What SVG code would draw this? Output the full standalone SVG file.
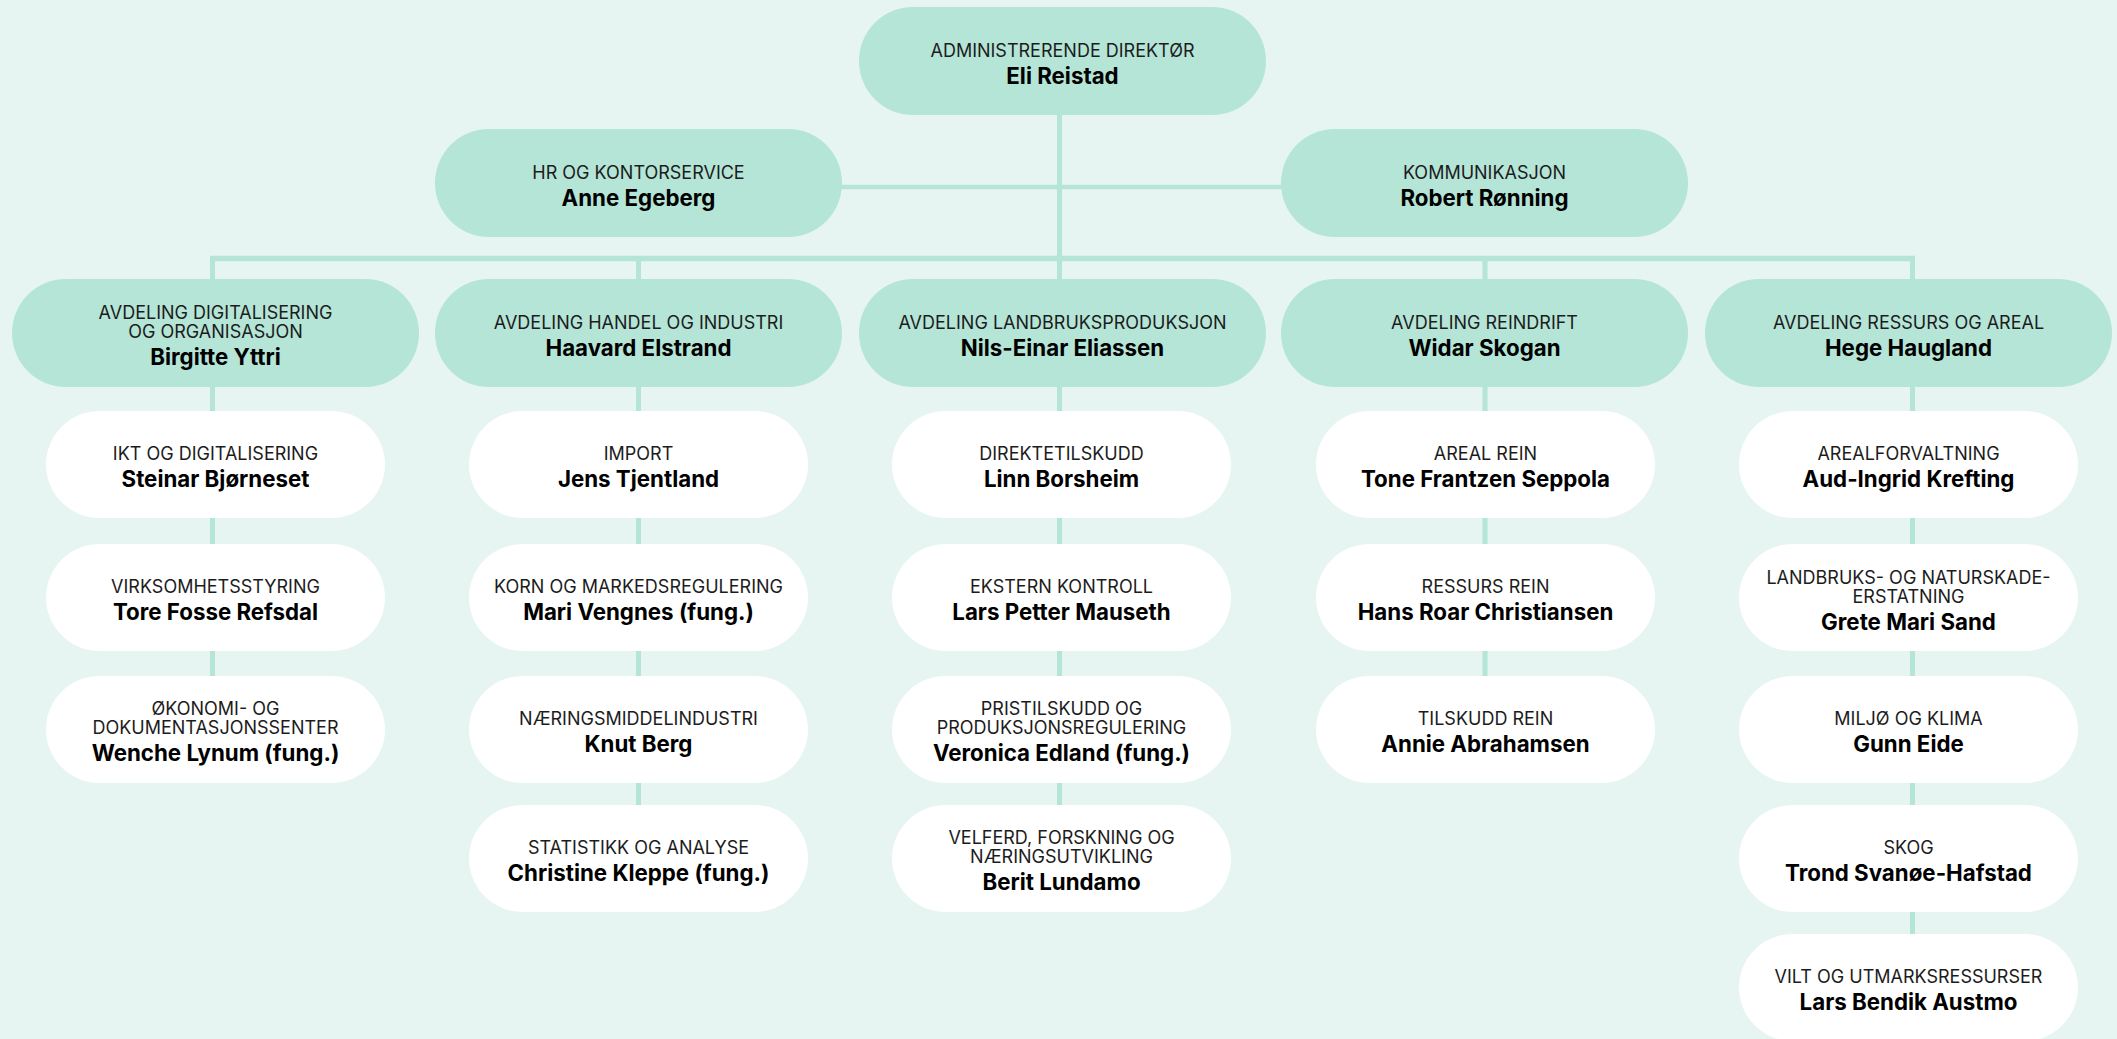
<svg xmlns="http://www.w3.org/2000/svg" width="2117" height="1039" viewBox="0 0 2117 1039">
<style>
.bg{fill:#E6F5F1}
.m{fill:#B4E5D7}
.w{fill:#FFFFFF}
.c{stroke:#B4E5D7;fill:none}
text{font-family:Inter,"Liberation Sans",sans-serif;text-anchor:middle;fill:#111}
.l{font-size:18px;font-weight:400;fill:#1c1c1c}
.n{font-size:22.3px;font-weight:700;fill:#000}
</style>
<rect class="bg" x="0" y="0" width="2117" height="1039"/>
<g id="connectors" class="c">
<line x1="1059.5" y1="110" x2="1059.5" y2="285" stroke-width="5"/>
<line x1="838" y1="187" x2="1285" y2="187" stroke-width="4.5"/>
<line x1="210" y1="258.5" x2="1915" y2="258.5" stroke-width="5.5"/>
<line x1="212.5" y1="256" x2="212.5" y2="730" stroke-width="5"/>
<line x1="638.5" y1="256" x2="638.5" y2="860" stroke-width="5"/>
<line x1="1059.5" y1="256" x2="1059.5" y2="860" stroke-width="5"/>
<line x1="1485" y1="256" x2="1485" y2="730" stroke-width="5"/>
<line x1="1912.5" y1="256" x2="1912.5" y2="990" stroke-width="5"/>
</g>
<g id="n-top"><rect class="m" x="859" y="7" width="407" height="108" rx="54"/><text class="l" x="1062.5" y="57">ADMINISTRERENDE DIREKTØR</text><text class="n" x="1062.5" y="84">Eli Reistad</text></g>
<g id="n-hr"><rect class="m" x="435" y="129" width="407" height="108" rx="54"/><text class="l" x="638.5" y="179">HR OG KONTORSERVICE</text><text class="n" x="638.5" y="206">Anne Egeberg</text></g>
<g id="n-komm"><rect class="m" x="1281" y="129" width="407" height="108" rx="54"/><text class="l" x="1484.5" y="179">KOMMUNIKASJON</text><text class="n" x="1484.5" y="206">Robert Rønning</text></g>
<g id="d-dig"><rect class="m" x="12" y="279" width="407" height="108" rx="54"/><text class="l" x="215.5" y="319">AVDELING DIGITALISERING</text><text class="l" x="215.5" y="338">OG ORGANISASJON</text><text class="n" x="215.5" y="365">Birgitte Yttri</text></g>
<g id="d-han"><rect class="m" x="435" y="279" width="407" height="108" rx="54"/><text class="l" x="638.5" y="329">AVDELING HANDEL OG INDUSTRI</text><text class="n" x="638.5" y="356">Haavard Elstrand</text></g>
<g id="d-lan"><rect class="m" x="859" y="279" width="407" height="108" rx="54"/><text class="l" x="1062.5" y="329">AVDELING LANDBRUKSPRODUKSJON</text><text class="n" x="1062.5" y="356">Nils-Einar Eliassen</text></g>
<g id="d-rei"><rect class="m" x="1281" y="279" width="407" height="108" rx="54"/><text class="l" x="1484.5" y="329">AVDELING REINDRIFT</text><text class="n" x="1484.5" y="356">Widar Skogan</text></g>
<g id="d-res"><rect class="m" x="1705" y="279" width="407" height="108" rx="54"/><text class="l" x="1908.5" y="329">AVDELING RESSURS OG AREAL</text><text class="n" x="1908.5" y="356">Hege Haugland</text></g>

<g id="s1-1"><rect class="w" x="46" y="411" width="339" height="107" rx="53.5"/><text class="l" x="215.5" y="460">IKT OG DIGITALISERING</text><text class="n" x="215.5" y="487">Steinar Bjørneset</text></g>
<g id="s1-2"><rect class="w" x="46" y="544" width="339" height="107" rx="53.5"/><text class="l" x="215.5" y="593">VIRKSOMHETSSTYRING</text><text class="n" x="215.5" y="620">Tore Fosse Refsdal</text></g>
<g id="s1-3"><rect class="w" x="46" y="676" width="339" height="107" rx="53.5"/><text class="l" x="215.5" y="715">ØKONOMI- OG</text><text class="l" x="215.5" y="734">DOKUMENTASJONSSENTER</text><text class="n" x="215.5" y="761">Wenche Lynum (fung.)</text></g>

<g id="s2-1"><rect class="w" x="469" y="411" width="339" height="107" rx="53.5"/><text class="l" x="638.5" y="460">IMPORT</text><text class="n" x="638.5" y="487">Jens Tjentland</text></g>
<g id="s2-2"><rect class="w" x="469" y="544" width="339" height="107" rx="53.5"/><text class="l" x="638.5" y="593">KORN OG MARKEDSREGULERING</text><text class="n" x="638.5" y="620">Mari Vengnes (fung.)</text></g>
<g id="s2-3"><rect class="w" x="469" y="676" width="339" height="107" rx="53.5"/><text class="l" x="638.5" y="725">NÆRINGSMIDDELINDUSTRI</text><text class="n" x="638.5" y="752">Knut Berg</text></g>
<g id="s2-4"><rect class="w" x="469" y="805" width="339" height="107" rx="53.5"/><text class="l" x="638.5" y="854">STATISTIKK OG ANALYSE</text><text class="n" x="638.5" y="881">Christine Kleppe (fung.)</text></g>

<g id="s3-1"><rect class="w" x="892" y="411" width="339" height="107" rx="53.5"/><text class="l" x="1061.5" y="460">DIREKTETILSKUDD</text><text class="n" x="1061.5" y="487">Linn Borsheim</text></g>
<g id="s3-2"><rect class="w" x="892" y="544" width="339" height="107" rx="53.5"/><text class="l" x="1061.5" y="593">EKSTERN KONTROLL</text><text class="n" x="1061.5" y="620">Lars Petter Mauseth</text></g>
<g id="s3-3"><rect class="w" x="892" y="676" width="339" height="107" rx="53.5"/><text class="l" x="1061.5" y="715">PRISTILSKUDD OG</text><text class="l" x="1061.5" y="734">PRODUKSJONSREGULERING</text><text class="n" x="1061.5" y="761">Veronica Edland (fung.)</text></g>
<g id="s3-4"><rect class="w" x="892" y="805" width="339" height="107" rx="53.5"/><text class="l" x="1061.5" y="844">VELFERD, FORSKNING OG</text><text class="l" x="1061.5" y="863">NÆRINGSUTVIKLING</text><text class="n" x="1061.5" y="890">Berit Lundamo</text></g>

<g id="s4-1"><rect class="w" x="1316" y="411" width="339" height="107" rx="53.5"/><text class="l" x="1485.5" y="460">AREAL REIN</text><text class="n" x="1485.5" y="487">Tone Frantzen Seppola</text></g>
<g id="s4-2"><rect class="w" x="1316" y="544" width="339" height="107" rx="53.5"/><text class="l" x="1485.5" y="593">RESSURS REIN</text><text class="n" x="1485.5" y="620">Hans Roar Christiansen</text></g>
<g id="s4-3"><rect class="w" x="1316" y="676" width="339" height="107" rx="53.5"/><text class="l" x="1485.5" y="725">TILSKUDD REIN</text><text class="n" x="1485.5" y="752">Annie Abrahamsen</text></g>

<g id="s5-1"><rect class="w" x="1739" y="411" width="339" height="107" rx="53.5"/><text class="l" x="1908.5" y="460">AREALFORVALTNING</text><text class="n" x="1908.5" y="487">Aud-Ingrid Krefting</text></g>
<g id="s5-2"><rect class="w" x="1739" y="544" width="339" height="107" rx="53.5"/><text class="l" x="1908.5" y="584">LANDBRUKS- OG NATURSKADE-</text><text class="l" x="1908.5" y="603">ERSTATNING</text><text class="n" x="1908.5" y="630">Grete Mari Sand</text></g>
<g id="s5-3"><rect class="w" x="1739" y="676" width="339" height="107" rx="53.5"/><text class="l" x="1908.5" y="725">MILJØ OG KLIMA</text><text class="n" x="1908.5" y="752">Gunn Eide</text></g>
<g id="s5-4"><rect class="w" x="1739" y="805" width="339" height="107" rx="53.5"/><text class="l" x="1908.5" y="854">SKOG</text><text class="n" x="1908.5" y="881">Trond Svanøe-Hafstad</text></g>
<g id="s5-5"><rect class="w" x="1739" y="934" width="339" height="107" rx="53.5"/><text class="l" x="1908.5" y="983">VILT OG UTMARKSRESSURSER</text><text class="n" x="1908.5" y="1010">Lars Bendik Austmo</text></g>
</svg>
